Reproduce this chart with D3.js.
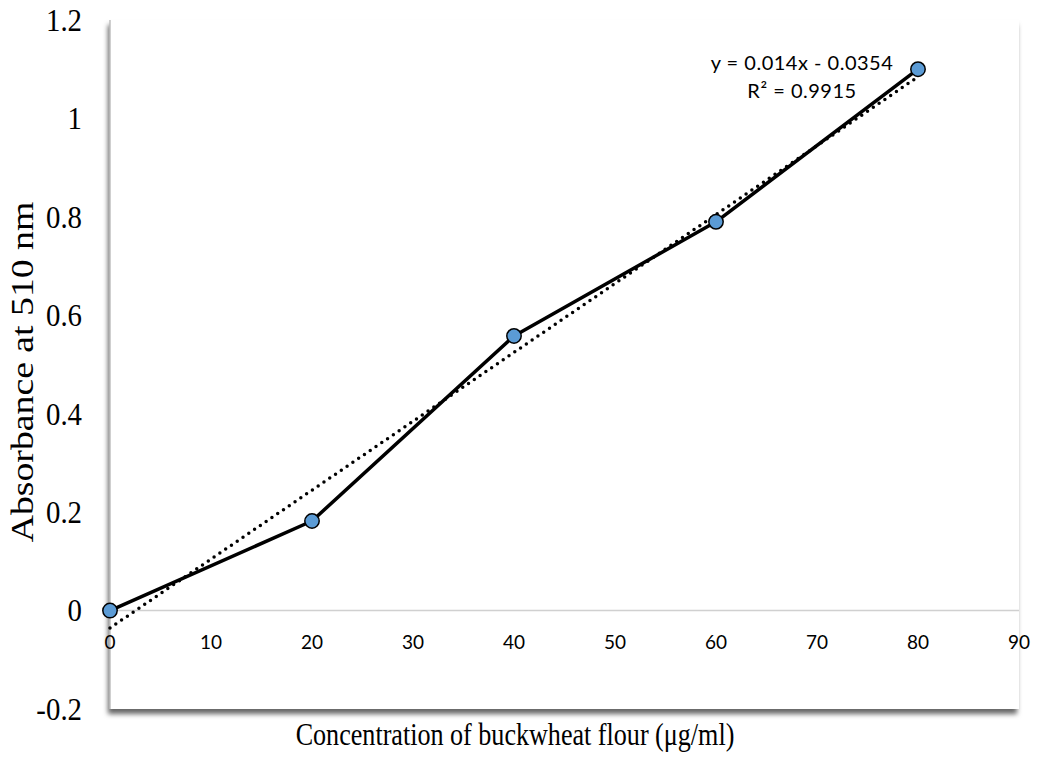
<!DOCTYPE html>
<html><head><meta charset="utf-8">
<script src="https://cdn.jsdelivr.net/npm/d3@7"></script>
<style>body{margin:0;background:#fff}</style>
</head><body>
<svg id="c" width="1037" height="758"></svg>
<script>
const concentrations = [0, 20, 40, 60, 80];
const absorbance = [0, 0.182, 0.558, 0.79, 1.1];
const xTicks = [0, 10, 20, 30, 40, 50, 60, 70, 80, 90];
const yTicks = [-0.2, 0, 0.2, 0.4, 0.6, 0.8, 1, 1.2];
const yTickLabels = ["-0.2", "0", "0.2", "0.4", "0.6", "0.8", "1", "1.2"];
const trendSlope = 0.014, trendIntercept = -0.0354;
const trendRange = [0, 80];
const equationLines = ["y = 0.014x - 0.0354", "R\u00b2 = 0.9915"];

const svg = d3.select("#c");
const L = 110, R = 1019, T = 20, B = 709;
const x = d3.scaleLinear().domain([0, 90]).range([L, R]);
const y = d3.scaleLinear().domain([-0.2, 1.2]).range([B, T]);

const defs = svg.append("defs");
const f = defs.append("filter").attr("id","sh").attr("x","-5%").attr("y","-5%").attr("width","110%").attr("height","112%");
f.append("feDropShadow").attr("dx",-2).attr("dy",5).attr("stdDeviation",2.5).attr("flood-color","#000").attr("flood-opacity",0.6);

svg.append("rect").attr("x",L).attr("y",T).attr("width",R-L).attr("height",B-T)
  .attr("fill","#fff").attr("filter","url(#sh)");

svg.append("line").attr("x1",L).attr("x2",L).attr("y1",T).attr("y2",B).attr("stroke","#bfbfbf").attr("stroke-width",1.5);
svg.append("line").attr("x1",L).attr("x2",R).attr("y1",y(0)).attr("y2",y(0)).attr("stroke","#d0d0d0").attr("stroke-width",1.5);

const serif = "'Liberation Serif', 'Times New Roman', serif";
const sans = "Lato, 'Open Sans', sans-serif";

svg.append("g").selectAll("text").data(yTicks).join("text")
  .attr("transform", d => `translate(82,${y(d)}) scale(0.93,1)`).attr("dy","0.35em").attr("text-anchor","end")
  .attr("font-family",serif).attr("font-size",31).attr("fill","#000")
  .text((d,i) => yTickLabels[i]);

svg.append("g").selectAll("text").data(xTicks).join("text")
  .attr("x", d => x(d)).attr("y", y(0) + 32).attr("dy","0.35em").attr("text-anchor","middle")
  .attr("font-family",sans).attr("font-size",19).attr("fill","#000")
  .text(d => d);

const tl = trendRange.map(v => [v, trendSlope*v + trendIntercept]);
svg.append("path").datum(tl)
  .attr("d", d3.line().x(d => x(d[0])).y(d => y(d[1])))
  .attr("stroke","#000").attr("stroke-width",3.5).attr("stroke-dasharray","0 7").attr("stroke-linecap","round").attr("fill","none");

const pts = concentrations.map((c,i) => [c, absorbance[i]]);
svg.append("path").datum(pts)
  .attr("d", d3.line().x(d => x(d[0])).y(d => y(d[1])))
  .attr("stroke","#000").attr("stroke-width",3.5).attr("fill","none").attr("stroke-linejoin","round");

svg.append("g").selectAll("circle").data(pts).join("circle")
  .attr("cx", d => x(d[0])).attr("cy", d => y(d[1])).attr("r",7.2)
  .attr("fill","#5b9bd5").attr("stroke","#000").attr("stroke-width",1.5);

svg.append("g").selectAll("text").data(equationLines).join("text")
  .attr("x", 802).attr("y",(d,i)=> 63 + i*28).attr("dy","0.35em").attr("text-anchor","middle")
  .attr("font-family",sans).attr("font-size",20).attr("letter-spacing",0.5).attr("fill","#000")
  .text(d => d);

svg.append("text").attr("transform","translate(515,745) scale(0.816,1)").attr("text-anchor","middle")
  .attr("font-family",serif).attr("font-size",32).attr("fill","#000")
  .text("Concentration of buckwheat flour (\u03bcg/ml)");
svg.append("text").attr("transform","translate(33,372) rotate(-90) scale(1.18,1)").attr("text-anchor","middle")
  .attr("font-family",serif).attr("font-size",32).attr("fill","#000")
  .text("Absorbance at 510 nm");
</script>
</body></html>
